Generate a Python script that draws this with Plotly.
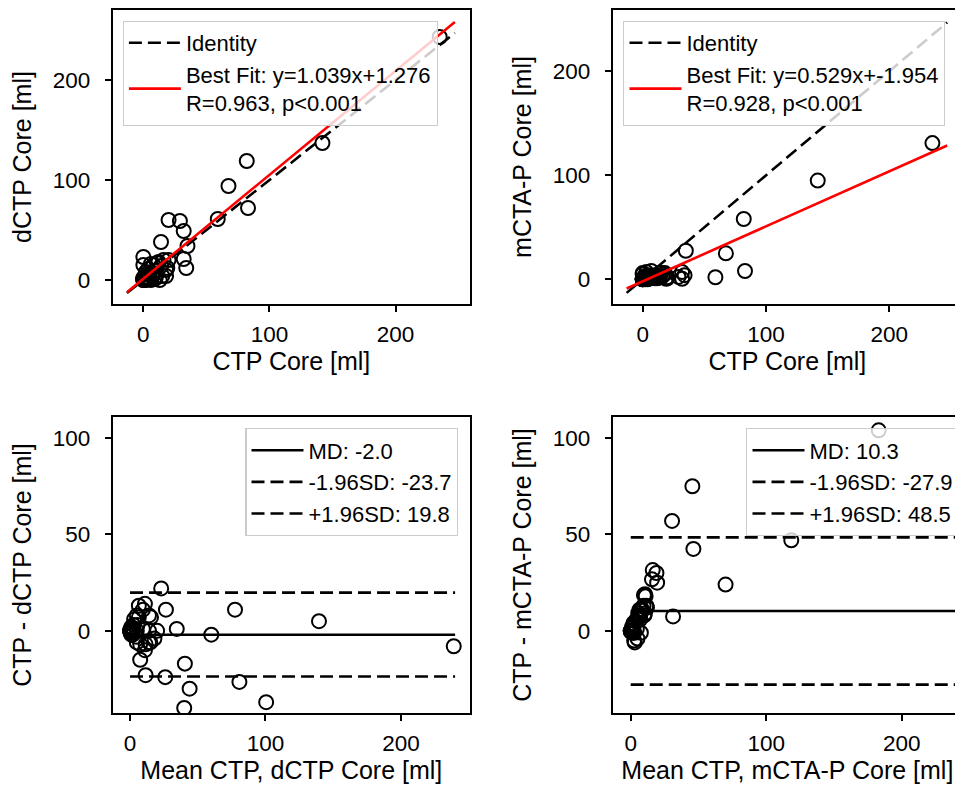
import plotly.graph_objects as go

# ---------------- data ----------------
CTP = [235, 142, 82, 83, 67.5, 59, 20, 29, 32, 14, 35, 0, 32, 34, 0,
       0, 0, 1, 0, 2, 3, 1, 0, 0, 2, 4, 8, 11, 6, 9, 10, 15, 13, 18, 19,
       18, 20, 12, 5, 7, 3, 14, 16, 6, 4, 2, 10]
DCTP = [243, 137, 119, 72, 94, 61, 60, 59, 49, 38, 34, 23, 21, 12, 15,
        0, 1, 0, 2, 1, 2, 3, 0, 1, 8, 11, 15, 17, 0, 1, 3, 4, 0, 4, 12,
        10, 20, 18, 5, 4, 6, 14, 20, 16, 1, 0, 9]
MCTAP = [131, 95, 58, 8, 25, 2, 1, 2.3, 0.5, 3, 27.5, 0.5, 7, 4, 0,
         0, 0, 1, 0.5, 0, 1, 2, 5, 6, 3, 1, 2, 3, 1, 2, 4, 6, 2, 5, 0.5,
         6, 2, 1, 4, 8, 7, 6, 3, 1, 0, 2, 1]

FIT_D = [1.039, 1.276]          # slope, intercept
FIT_M = [0.529, -1.954]
LINE_X = [-13, 247]
BA_LINE_X = [0, 240]
BA_D = [-2.0, -23.7, 19.8]      # MD, -1.96SD, +1.96SD
BA_M = [10.3, -27.9, 48.5]

LEG_FIT_D = ["Identity", "Best Fit: y=1.039x+1.276<br>R=0.963, p<0.001"]
LEG_FIT_M = ["Identity", "Best Fit: y=0.529x+-1.954<br>R=0.928, p<0.001"]
LEG_BA_D = ["MD: -2.0", "-1.96SD: -23.7", "+1.96SD: 19.8"]
LEG_BA_M = ["MD: 10.3", "-1.96SD: -27.9", "+1.96SD: 48.5"]

XT_TOP = "CTP Core [ml]"
YT = ["dCTP Core [ml]", "mCTA-P Core [ml]", "CTP - dCTP Core [ml]", "CTP - mCTA-P Core [ml]"]
XT_BOT = ["Mean CTP, dCTP Core [ml]", "Mean CTP, mCTA-P Core [ml]"]

mean_d = [(a + b) / 2 for a, b in zip(CTP, DCTP)]
diff_d = [a - b for a, b in zip(CTP, DCTP)]
mean_m = [(a + b) / 2 for a, b in zip(CTP, MCTAP)]
diff_m = [a - b for a, b in zip(CTP, MCTAP)]

# ---------------- figure ----------------
OFF = 8                      # page body margin
W, H = 963 - OFF, 785 - OFF
FONT = "Liberation Sans, Arial, sans-serif"
DASH = "13px,6px"
LW = 2.6

fig = go.Figure()

marker = dict(symbol="circle-open", size=14, color="black", line=dict(width=2, color="black"))


def scatter(x, y, ax):
    fig.add_trace(go.Scatter(x=x, y=y, mode="markers", marker=marker,
                             xaxis="x" + ax, yaxis="y" + ax, showlegend=False,
                             hoverinfo="skip"))


def line(x, y, ax, name, color, dash, leg):
    fig.add_trace(go.Scatter(x=x, y=y, mode="lines", name=name,
                             line=dict(color=color, width=LW, dash=dash),
                             xaxis="x" + ax, yaxis="y" + ax, legend=leg))


# top-left
scatter(CTP, DCTP, "")
line(LINE_X, LINE_X, "", LEG_FIT_D[0], "black", DASH, "legend")
line(LINE_X, [FIT_D[0] * v + FIT_D[1] for v in LINE_X], "", LEG_FIT_D[1], "red", "solid", "legend")
# top-right
scatter(CTP, MCTAP, "2")
line(LINE_X, LINE_X, "2", LEG_FIT_M[0], "black", DASH, "legend2")
line(LINE_X, [FIT_M[0] * v + FIT_M[1] for v in LINE_X], "2", LEG_FIT_M[1], "red", "solid", "legend2")
# bottom-left
scatter(mean_d, diff_d, "3")
for v, lab, d in zip(BA_D, LEG_BA_D, ["solid", DASH, DASH]):
    line(BA_LINE_X, [v, v], "3", lab, "black", d, "legend3")
# bottom-right
scatter(mean_m, diff_m, "4")
for v, lab, d in zip(BA_M, LEG_BA_M, ["solid", DASH, DASH]):
    line(BA_LINE_X, [v, v], "4", lab, "black", d, "legend4")


def px_x(p):
    return (p - OFF) / W


def px_y(p):
    return 1 - (p - OFF) / H


def ax_common(title, rng, dom, anchor, tick=100, is_y=False):
    return dict(title=dict(text=title, font=dict(size=25, family=FONT, color="black"),
                           standoff=14 if is_y else 6),
                range=rng, domain=dom, anchor=anchor, showgrid=False, zeroline=False,
                showline=True, mirror=True, linecolor="black", linewidth=1.8,
                ticks="outside", ticklen=6, tickwidth=1.6, tickcolor="black",
                ticklabelstandoff=10 if is_y else 3,
                tickfont=dict(size=22.5, family=FONT, color="black"),
                dtick=tick, tick0=0, automargin=False)


xl = [px_x(112.7), px_x(470)]
xr = [px_x(612.7), px_x(962)]
yt = [px_y(304), px_y(10)]
yb = [px_y(713), px_y(417)]

legend_common = dict(bgcolor="rgba(255,255,255,0.8)", bordercolor="#cccccc", borderwidth=1.2,
                     itemwidth=52,
                     font=dict(size=22, family=FONT, color="black"))

fig.update_layout(
    width=W, height=H, template="none",
    paper_bgcolor="white", plot_bgcolor="white",
    margin=dict(l=0, r=0, t=0, b=0, pad=0),
    font=dict(family=FONT, color="black"),
    xaxis=ax_common(XT_TOP, [-24.3, 259], xl, "y"),
    yaxis=ax_common(YT[0], [-24, 270], yt, "x", is_y=True),
    xaxis2=ax_common(XT_TOP, [-24.3, 259], xr, "y2"),
    yaxis2=ax_common(YT[1], [-23.7, 259], yt, "x2", is_y=True),
    xaxis3=ax_common(XT_BOT[0], [-12.8, 251], xl, "y3"),
    yaxis3=ax_common(YT[2], [-42.6, 110.9], yb, "x3", tick=50, is_y=True),
    xaxis4=ax_common(XT_BOT[1], [-13.3, 244.5], xr, "y4"),
    yaxis4=ax_common(YT[3], [-42.6, 110.9], yb, "x4", tick=50, is_y=True),
    legend=dict(x=px_x(122.7), y=px_y(20.7), xanchor="left", yanchor="top", **legend_common),
    legend2=dict(x=px_x(623.3), y=px_y(20.7), xanchor="left", yanchor="top", **legend_common),
    legend3=dict(x=px_x(458.3), y=px_y(428.3), xanchor="right", yanchor="top", **legend_common),
    legend4=dict(x=px_x(959.3), y=px_y(428.3), xanchor="right", yanchor="top", **legend_common),
)

fig.write_html("out.html")
